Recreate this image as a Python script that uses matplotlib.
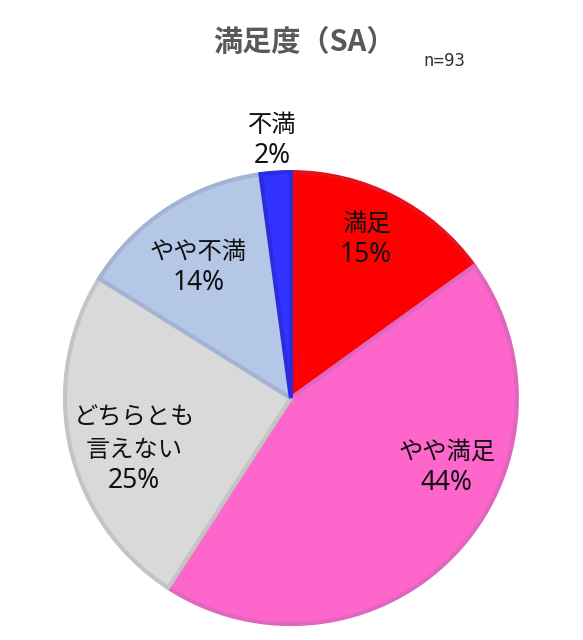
import matplotlib.pyplot as plt

plt.rcParams['font.family'] = ['Noto Sans CJK JP', 'DejaVu Sans']

# data (n=93)
categories = ['満足', 'やや満足', 'どちらとも\n言えない', 'やや不満', '不満']
counts = [14, 41, 23, 13, 2]
pct_labels = ['15%', '44%', '25%', '14%', '2%']

fill_colors = ['#FF0000', '#FF66CC', '#D9D9D9', '#B4C7E7', '#3333FF']
edge_colors = ['#E8101A', '#E066C0', '#C4C4C4', '#A3B3D3', '#2B2BE0']

# percentage-line positions in pie units (radius = 1)
label_pos = [(0.332, 0.635), (0.69, -0.375), (-0.695, -0.365), (-0.41, 0.51), (-0.084, 1.07)]

fig = plt.figure(figsize=(5.83, 6.4), dpi=100)
ax = fig.add_axes([0.034, 0.0073, 0.930, 0.865])

wedges, _ = ax.pie(counts, colors=fill_colors, startangle=90, counterclock=False,
                   radius=1.0, wedgeprops=dict(linewidth=3))
for w, ec in zip(wedges, edge_colors):
    w.set_edgecolor(ec)

pitch = 22.5  # points between text lines
for cat, pct, (x, y) in zip(categories, pct_labels, label_pos):
    n_lines = cat.count('\n') + 1
    ax.annotate(pct, (x, y), ha='center', va='center', fontsize=19,
                family=['Noto Sans', 'DejaVu Sans'], color='#111111')
    ax.annotate(cat, (x, y), xytext=(0, pitch * (n_lines + 1) / 2),
                textcoords='offset points', ha='center', va='center',
                fontsize=17.5, linespacing=1.35, color='#111111')

ax.set_xlim(-1.2, 1.2)
ax.set_ylim(-1.05, 1.4)
ax.set_aspect('auto')
ax.axis('off')

fig.text(305 / 583, 1 - 42 / 640, '満足度（SA）', ha='center', va='center',
         fontsize=21, fontweight='bold', color='#595959')
fig.text(444 / 583, 1 - 61 / 640, 'n=93', ha='center', va='center',
         fontsize=12.5, family='DejaVu Sans Mono', color='#333333')

fig.savefig('out.png', dpi=100)
